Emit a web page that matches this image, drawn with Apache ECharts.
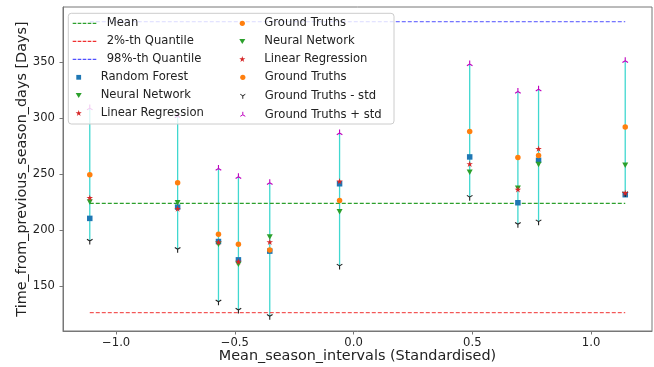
<!DOCTYPE html>
<html>
<head>
<meta charset="utf-8">
<script src="https://cdn.jsdelivr.net/npm/echarts@6/dist/echarts.min.js"></script>
<style>
html,body{margin:0;padding:0;background:#fff;}
#chart{width:654px;height:367px;}
</style>
</head>
<body>
<div id="chart"></div>
<script>
// ---- data ----
const xVals       = [-1.111, -0.741, -0.569, -0.485, -0.353, -0.059, 0.489, 0.692, 0.779, 1.144];
const groundTruth = [249.3, 242.2, 196.1, 187.2, 182.1, 226.4, 288.1, 264.7, 266.5, 292.0];
const gtPlusStd   = [309.0, 302.0, 254.9, 247.5, 242.2, 286.7, 348.5, 323.8, 325.9, 351.4];
const gtMinusStd  = [190.1, 182.7, 135.7, 128.3, 122.7, 167.8, 229.3, 205.0, 207.4, 232.6];
const randomForest  = [210.3, 220.4, 189.6, 173.2, 181.0, 241.3, 265.3, 224.3, 262.3, 231.5];
const neuralNetwork = [224.9, 224.3, 187.2, 169.3, 193.7, 216.3, 251.6, 237.3, 258.5, 257.8];
const linearRegr    = [228.8, 219.0, 189.0, 171.7, 189.2, 243.6, 259.1, 236.2, 272.7, 233.2];
const meanValue = 223.7;
const q2Value   = 125.9;
const q98Value  = 386.3;
const xTicks = [-1.0, -0.5, 0.0, 0.5, 1.0];
const yTicks = [150, 200, 250, 300, 350];

// ---- helpers ----
const FONT = 'DejaVu Sans';
const xMinD = Math.min(...xVals), xMaxD = Math.max(...xVals);
const xPad = 0.05 * (xMaxD - xMinD);
const yAll = [].concat(gtPlusStd, gtMinusStd, randomForest, neuralNetwork, linearRegr, groundTruth, [meanValue, q2Value, q98Value]);
const yMinD = Math.min(...yAll), yMaxD = Math.max(...yAll);
const yPad = 0.05 * (yMaxD - yMinD);
const pts = arr => xVals.map((x, i) => [x, arr[i]]);
const hline = v => [[xMinD, v], [xMaxD, v]];
const fmt = v => (v < 0 ? '\u2212' : '') + Math.abs(v).toFixed(1);

const STAR = 'path://M0,-100L22.45,-30.9L95.1,-30.9L36.3,11.8L58.8,80.9L0,38.2L-58.8,80.9L-36.3,11.8L-95.1,-30.9L-22.45,-30.9Z';
const TRI_DOWN = 'path://M0,-10M0,0L0,10M0,0L8,-5M0,0L-8,-5';
const TRI_UP = 'path://M0,10M0,0L0,-10M0,0L8,5M0,0L-8,5';

// legend icons (padded bounding box so the mark stays small)
const IC_DASH = 'path://M0,0M24,12M0,5.4L3.6,5.4L3.6,6.6L0,6.6ZM5,5.4L8.6,5.4L8.6,6.6L5,6.6ZM10,5.4L13.6,5.4L13.6,6.6L10,6.6ZM15,5.4L18.6,5.4L18.6,6.6L15,6.6ZM20,5.4L23.6,5.4L23.6,6.6L20,6.6Z';
const IC_SQ = 'path://M-6,-6M6,6M-2.4,-2.4L2.4,-2.4L2.4,2.4L-2.4,2.4Z';
const IC_TRI = 'path://M-6,-6M6,6M-3,-2.2L3,-2.2L0,2.8Z';
const IC_STAR = 'path://M-6,-6M6,6M0,-3.2L0.72,-0.99L3.04,-0.99L1.16,0.38L1.88,2.59L0,1.22L-1.88,2.59L-1.16,0.38L-3.04,-0.99L-0.72,-0.99Z';
const IC_CIRC = 'path://M-6,-6M6,6M2.6,0A2.6,2.6,0,1,1,-2.6,0A2.6,2.6,0,1,1,2.6,0Z';
const IC_YD = 'path://M-6,-6M6,6M0,0L0,3M0,0L2.5,-1.5M0,0L-2.5,-1.5';
const IC_YU = 'path://M-6,-6M6,6M0,0L0,-3M0,0L2.5,1.5M0,0L-2.5,1.5';

const C_MEAN = '#2ca02c', C_Q2 = '#f03030', C_Q98 = '#5050ff';
const C_RF = '#1f77b4', C_NN = '#2ca02c', C_LR = '#d62728', C_GT = '#ff7f0e', C_MINUS = '#222222', C_PLUS = '#bf00bf';

const legendText = {fontFamily: FONT, fontSize: 11.6, color: '#222', lineHeight: 12, padding: [0, 0, 0, 5]};
const legendBase = {orient: 'vertical', padding: 0, itemWidth: 24, itemHeight: 12, itemGap: 6, textStyle: legendText, z: 10, selectedMode: false};
const fillIcon = (name, icon, col) => ({name, icon, itemStyle: {color: col, borderWidth: 0}});
const strokeIcon = (name, icon, col) => ({name, icon, itemStyle: {color: 'transparent', borderColor: col, borderWidth: 1}});

const chart = echarts.init(document.getElementById('chart'), null, {renderer: 'canvas'});
chart.setOption({
  animation: false,
  backgroundColor: '#fff',
  textStyle: {fontFamily: FONT},
  grid: {left: 63, top: 7, right: 2, bottom: 36, show: true, borderColor: '#777', borderWidth: 1,
         backgroundColor: 'transparent', containLabel: false, outerBoundsMode: 'none'},
  xAxis: {
    type: 'value', min: xMinD - xPad, max: xMaxD + xPad,
    name: 'Mean_season_intervals (Standardised)', nameLocation: 'middle', nameGap: 18, nameMoveOverlap: false,
    nameTextStyle: {fontFamily: FONT, fontSize: 14.4, color: '#222', verticalAlign: 'top'},
    axisLine: {show: true, onZero: false, lineStyle: {color: '#777', width: 1}},
    axisTick: {show: true, length: 3.5, lineStyle: {color: '#777'}, customValues: xTicks},
    axisLabel: {customValues: xTicks, formatter: fmt, fontFamily: FONT, fontSize: 11.6, color: '#222', margin: 6},
    splitLine: {show: false}
  },
  yAxis: {
    type: 'value', min: yMinD - yPad, max: yMaxD + yPad,
    name: 'Time_from_previous_season_days [Days]', nameLocation: 'middle', nameGap: 34, nameMoveOverlap: false,
    nameTextStyle: {fontFamily: FONT, fontSize: 14.4, color: '#222'},
    axisLine: {show: true, onZero: false, lineStyle: {color: '#777', width: 1}},
    axisTick: {show: true, length: 3.5, lineStyle: {color: '#777'}, customValues: yTicks},
    axisLabel: {customValues: yTicks, fontFamily: FONT, fontSize: 11.6, color: '#222', margin: 8},
    splitLine: {show: false}
  },
  legend: [
    Object.assign({}, legendBase, {left: 72.7, top: 17.3, data: [
      fillIcon('Mean', IC_DASH, C_MEAN), fillIcon('2%-th Quantile', IC_DASH, C_Q2), fillIcon('98%-th Quantile', IC_DASH, C_Q98)]}),
    Object.assign({}, legendBase, {left: 72.7, top: 71.3, data: [
      fillIcon('Random Forest', IC_SQ, C_RF), fillIcon('Neural Network', IC_TRI, C_NN), fillIcon('Linear Regression', IC_STAR, C_LR)]}),
    Object.assign({}, legendBase, {left: 236.3, top: 17.3, data: [
      fillIcon('Ground Truths', IC_CIRC, C_GT), fillIcon('Neural Network', IC_TRI, C_NN), fillIcon('Linear Regression', IC_STAR, C_LR)]}),
    Object.assign({}, legendBase, {left: 236.3, top: 71.3, data: [
      fillIcon('Ground Truths', IC_CIRC, C_GT), strokeIcon('Ground Truths - std', IC_YD, C_MINUS), strokeIcon('Ground Truths + std', IC_YU, C_PLUS)]})
  ],
  graphic: [{
    type: 'rect', z: 9, silent: true,
    shape: {x: 68.3, y: 13.3, width: 325.7, height: 110.7, r: 3},
    style: {fill: 'rgba(255,255,255,0.8)', stroke: '#cccccc', lineWidth: 1}
  }],
  series: [
    {
      type: 'custom', name: 'errorbar', silent: true, z: 1,
      data: xVals.map((x, i) => [x, gtMinusStd[i], gtPlusStd[i]]),
      encode: {x: 0, y: [1, 2]},
      renderItem: (params, api) => {
        const a = api.coord([api.value(0), api.value(1)]);
        const b = api.coord([api.value(0), api.value(2)]);
        return {type: 'line', shape: {x1: a[0], y1: a[1], x2: b[0], y2: b[1]}, style: {stroke: '#40d8d0', lineWidth: 1.3}};
      }
    },
    {type: 'line', name: 'Mean', data: hline(meanValue), symbol: 'none', z: 2,
     lineStyle: {color: C_MEAN, width: 1.2, type: [4, 2]}, itemStyle: {color: C_MEAN}},
    {type: 'line', name: '2%-th Quantile', data: hline(q2Value), symbol: 'none', z: 2,
     lineStyle: {color: C_Q2, width: 1, type: [4, 2]}, itemStyle: {color: C_Q2}},
    {type: 'line', name: '98%-th Quantile', data: hline(q98Value), symbol: 'none', z: 2,
     lineStyle: {color: C_Q98, width: 1, type: [4, 2]}, itemStyle: {color: C_Q98}},
    {type: 'scatter', name: 'Random Forest', data: pts(randomForest), symbol: 'rect', symbolSize: 5.5, z: 3,
     itemStyle: {color: C_RF, opacity: 1}},
    {type: 'scatter', name: 'Neural Network', data: pts(neuralNetwork), symbol: 'triangle', symbolRotate: 180, symbolSize: [6, 5.5], z: 3,
     itemStyle: {color: C_NN, opacity: 1}},
    {type: 'scatter', name: 'Ground Truths - std', data: pts(gtMinusStd), symbol: TRI_DOWN, symbolKeepAspect: true, symbolSize: 7, z: 3,
     itemStyle: {color: 'transparent', borderColor: C_MINUS, borderWidth: 1.1, opacity: 1}},
    {type: 'scatter', name: 'Linear Regression', data: pts(linearRegr), symbol: STAR, symbolKeepAspect: true, symbolSize: 6.5, z: 3,
     itemStyle: {color: C_LR, opacity: 1}},
    {type: 'scatter', name: 'Ground Truths', data: pts(groundTruth), symbol: 'circle', symbolSize: 5.5, z: 3,
     itemStyle: {color: C_GT, opacity: 1}},
    {type: 'scatter', name: 'Ground Truths + std', data: pts(gtPlusStd), symbol: TRI_UP, symbolKeepAspect: true, symbolSize: 7, z: 3,
     itemStyle: {color: 'transparent', borderColor: C_PLUS, borderWidth: 1.1, opacity: 1}}
  ]
});
</script>
</body>
</html>
